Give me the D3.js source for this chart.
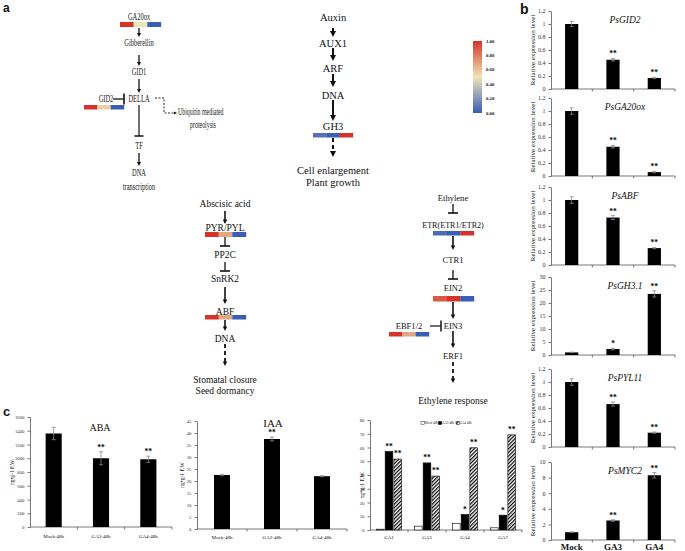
<!DOCTYPE html>
<html>
<head>
<meta charset="utf-8">
<script src="https://cdn.jsdelivr.net/npm/d3@7"></script>
<style>
  body { margin: 0; background: #fff; }
  svg { display: block; font-family: "Liberation Serif", "Times New Roman", serif; }
</style>
</head>
<body>
<div id="fig"></div>
<script>
// ---------- data ----------
// pathway node labels
const gaPathway = ["GA20ox", "Gibberellin", "GID1", "DELLA", "TF", "DNA", "transcription"];
const auxinPathway = ["Auxin", "AUX1", "ARF", "DNA", "GH3"];
const auxinOutcome = ["Cell enlargement", "Plant growth"];
const abaPathway = ["Abscisic acid", "PYR/PYL", "PP2C", "SnRK2", "ABF", "DNA"];
const abaOutcome = ["Stomatal closure", "Seed dormancy"];
const ethPathway = ["Ethylene", "ETR(ETR1/ETR2)", "CTR1", "EIN2", "EIN3", "ERF1"];
const ethOutcome = ["Ethylene response"];

// heatmap (Mock, GA3, GA4), normalised
const heatGenes = ["GA20ox", "GID2", "GH3", "PYR/PYL", "ABF", "ETR", "EIN2", "EBF1/2"];
const heatValues = [
  [1, 0.5, 0], [1, 0.56, 0], [0.08, 0, 1], [1, 0.68, 0],
  [1, 0.68, 0], [0.05, 0, 1], [0.9, 1, 0], [1, 0.68, 0]
];
const colorTicks = [0, 0.2, 0.4, 0.6, 0.8, 1];

// panel b: relative expression
const bCats = ["Mock", "GA3", "GA4"];
const bGenes = ["PsGID2", "PsGA20ox", "PsABF", "PsGH3.1", "PsPYL11", "PsMYC2"];
const bValues = [[1.00, 0.45, 0.17], [1.00, 0.45, 0.06], [1.00, 0.73, 0.26],
                 [1.0, 2.3, 23.5], [1.00, 0.66, 0.22], [1.0, 2.5, 8.3]];
const bErrors = [[0.04, 0.02, 0.01], [0.05, 0.02, 0.01], [0.05, 0.03, 0.01],
                 [0.1, 0.3, 1.2], [0.05, 0.03, 0.01], [0.05, 0.1, 0.35]];
const bStars = [["", "**", "**"], ["", "**", "**"], ["", "**", "**"],
                ["", "*", "**"], ["", "**", "**"], ["", "**", "**"]];
const bYMax = [1.2, 1.2, 1.2, 30, 1.2, 10];
const bYStep = [0.2, 0.2, 0.2, 5, 0.2, 2];

// panel c: hormone contents
const hormoneCats = ["Mock-48h", "GA3-48h", "GA4-48h"];
const abaValues = [1360, 1000, 985];
const abaErrors = [90, 95, 45];
const abaStars = ["", "**", "**"];
const iaaValues = [22.5, 37.5, 22.0];
const iaaErrors = [0.3, 0.8, 0.2];
const iaaStars = ["", "**", ""];
const gaCats = ["GA1", "GA3", "GA4", "GA7"];
const gaSeries = ["Mock-48h", "GA3-48h", "GA4-48h"];
const gaMock = [0.6, 2.8, 4.8, 1.6];
const gaGA3 = [57.2, 48.8, 11.3, 10.8];
const gaGA4 = [51.6, 39.2, 59.8, 69.2];
const gaMockErr = [0.1, 0.2, 0.2, 0.1];
const gaGA3Err = [0.6, 0.6, 0.4, 0.4];
const gaGA4Err = [0.5, 0.5, 0.5, 0.5];
const gaStars3 = ["**", "**", "*", "*"];
const gaStars4 = ["**", "**", "**", "**"];

// ---------- svg ----------
const W = 685, H = 551;
const svg = d3.select("#fig").append("svg").attr("width", W).attr("height", H);
const defs = svg.append("defs");

// heat colour scale
const heatColor = d3.scaleLinear()
  .domain([0, 0.5, 1])
  .range(["#3a5db6", "#ede6b6", "#d6342b"]);

// hatch for GA4 bars
const hatch = defs.append("pattern")
  .attr("id", "hatch")
  .attr("patternUnits", "userSpaceOnUse")
  .attr("width", 2.6).attr("height", 2.6)
  .attr("patternTransform", "rotate(45)");
hatch.append("rect").attr("width", 2.6).attr("height", 2.6).attr("fill", "#fff");
hatch.append("line").attr("x1", 0.6).attr("x2", 0.6).attr("y1", 0).attr("y2", 2.6)
  .attr("stroke", "#000").attr("stroke-width", 1.2);

// ---------- helpers ----------
function label(g, x, y, txt, o = {}) {
  return g.append("text")
    .attr("transform", `translate(${x},${y}) scale(${o.sx || 1},1)`)
    .attr("dy", "0.35em")
    .attr("text-anchor", o.anchor || "middle")
    .style("font-size", (o.size || 9) + "px")
    .style("font-weight", o.weight || "normal")
    .style("font-style", o.style || "normal")
    .style("font-family", o.family || null)
    .attr("fill", o.fill || "#111")
    .text(txt);
}

function arrow(g, pts, o = {}) {
  const hl = o.head || 5, hw = o.hw || 5, sw = o.sw || 1.3;
  const n = pts.length;
  const [xa, ya] = pts[n - 2], [xb, yb] = pts[n - 1];
  const len = Math.hypot(xb - xa, yb - ya);
  const ux = (xb - xa) / len, uy = (yb - ya) / len;
  const line = pts.slice(0, n - 1).concat([[xb - ux * hl * 0.8, yb - uy * hl * 0.8]]);
  g.append("path")
    .attr("d", d3.line()(line))
    .attr("fill", "none")
    .attr("stroke", "#111")
    .attr("stroke-width", sw)
    .attr("stroke-dasharray", o.dash || null);
  const bx = xb - ux * hl, by = yb - uy * hl;
  g.append("path")
    .attr("d", `M${xb},${yb}L${bx - uy * hw / 2},${by + ux * hw / 2}L${bx + uy * hw / 2},${by - ux * hw / 2}Z`)
    .attr("fill", "#111");
}

function inhibit(g, x1, y1, x2, y2, bar = 10, sw = 1.2) {
  g.append("line").attr("x1", x1).attr("y1", y1).attr("x2", x2).attr("y2", y2)
    .attr("stroke", "#111").attr("stroke-width", sw);
  const len = Math.hypot(x2 - x1, y2 - y1);
  const px = -(y2 - y1) / len, py = (x2 - x1) / len;
  g.append("line")
    .attr("x1", x2 - px * bar / 2).attr("y1", y2 - py * bar / 2)
    .attr("x2", x2 + px * bar / 2).attr("y2", y2 + py * bar / 2)
    .attr("stroke", "#111").attr("stroke-width", sw + 0.3);
}

function heatBar(g, gene, x, y, w, h) {
  const vals = heatValues[heatGenes.indexOf(gene)];
  const hx = d3.scaleBand().domain(d3.range(vals.length)).range([x, x + w]);
  g.selectAll(null).data(vals).enter().append("rect")
    .attr("x", (d, i) => hx(i))
    .attr("y", y)
    .attr("width", hx.bandwidth() + 0.2)
    .attr("height", h)
    .attr("fill", d => heatColor(d));
}

// ---------- panel a ----------
const a = svg.append("g");
label(a, 3, 8, "a", { size: 12, weight: "bold", anchor: "start", family: "Liberation Sans, Arial, sans-serif" });

// gibberellin signalling (condensed type)
const gaX = 139, gaY = [17, 43, 72, 99, 146, 173, 187];
gaPathway.forEach((t, i) => label(a, gaX, gaY[i], t, { size: 9.5, sx: 0.68, fill: "#222" }));
heatBar(a, "GA20ox", 120, 22, 41, 5);
arrow(a, [[gaX, 28], [gaX, 37]], { head: 4, hw: 4, sw: 1.3 });
arrow(a, [[gaX, 55], [gaX, 66]], { head: 4, hw: 4, sw: 1.3 });
arrow(a, [[gaX, 79], [gaX, 93]], { head: 4, hw: 4, sw: 1.3 });
inhibit(a, gaX, 105, gaX, 136, 9);
arrow(a, [[gaX, 153], [gaX, 166]], { head: 4, hw: 4, sw: 1.3 });
label(a, 106, 99, "GID2", { size: 9.5, sx: 0.68, fill: "#222" });
inhibit(a, 113, 99, 124, 99, 11, 1.3);
heatBar(a, "GID2", 84, 105, 40, 4.5);
arrow(a, [[155, 98], [164, 98], [164, 113], [177, 113]], { head: 3, hw: 3, sw: 0.9, dash: "2,1.5" });
label(a, 178, 112, "Ubiquitin mediated", { size: 9.5, sx: 0.62, anchor: "start", fill: "#222" });
label(a, 203, 125, "proteolysis", { size: 9.5, sx: 0.62, fill: "#222" });

// auxin signalling
const axX = 333, axY = [17, 43, 68, 95, 126];
auxinPathway.forEach((t, i) => label(a, axX, axY[i], t, { size: 10.5 }));
const thick = { head: 6, hw: 6, sw: 2 };
arrow(a, [[axX, 28], [axX, 37]], thick);
arrow(a, [[axX, 48], [axX, 61]], thick);
arrow(a, [[axX, 74], [axX, 87]], thick);
arrow(a, [[axX, 100], [axX, 121]], thick);
heatBar(a, "GH3", 313, 133, 40, 4.5);
arrow(a, [[axX, 138], [axX, 157]], { head: 6, hw: 6, sw: 2, dash: "4,3" });
auxinOutcome.forEach((t, i) => label(a, axX, 170 + i * 12.5, t, { size: 10.5 }));

// colour key
const grad = defs.append("linearGradient").attr("id", "heatGrad")
  .attr("x1", 0).attr("x2", 0).attr("y1", 1).attr("y2", 0);
grad.selectAll("stop").data(d3.range(0, 1.01, 0.1)).enter().append("stop")
  .attr("offset", d => d).attr("stop-color", d => heatColor(d));
const keyY = d3.scaleLinear().domain([0, 1]).range([113, 41]);
a.append("rect").attr("x", 473).attr("y", keyY(1)).attr("width", 9)
  .attr("height", keyY(0) - keyY(1)).attr("fill", "url(#heatGrad)");
colorTicks.forEach(v => label(a, 486, keyY(v), v.toFixed(2), { size: 4.8, weight: "bold", anchor: "start" }));

// ABA signalling
const abX = 225, abY = [204, 228, 255, 279, 312, 339];
abaPathway.forEach((t, i) => label(a, abX, abY[i], t, { size: 9.5 }));
arrow(a, [[abX, 211], [abX, 224]], { head: 4.5, hw: 4.5, sw: 1.6 });
heatBar(a, "PYR/PYL", 205, 232, 41, 5);
inhibit(a, abX, 237, abX, 246, 10, 1.3);
inhibit(a, abX, 262, abX, 271, 10, 1.3);
arrow(a, [[abX, 287], [abX, 304]], { head: 4.5, hw: 4.5, sw: 1.6 });
heatBar(a, "ABF", 205, 315, 41, 4.5);
arrow(a, [[abX, 320], [abX, 331]], { head: 4.5, hw: 4.5, sw: 1.6 });
arrow(a, [[abX, 344], [abX, 366]], { head: 4.5, hw: 4.5, sw: 1.8, dash: "4,3" });
abaOutcome.forEach((t, i) => label(a, abX, 380 + i * 11, t, { size: 9.5 }));

// ethylene signalling
const etX = 453, etY = [198, 225, 260, 288, 326, 356];
ethPathway.forEach((t, i) => label(a, etX, etY[i], t, { size: 9, sx: i === 1 ? 0.9 : 0.95 }));
inhibit(a, etX, 204, etX, 213, 10, 1.3);
heatBar(a, "ETR", 433, 231, 41, 4.5);
arrow(a, [[etX, 236], [etX, 250]], { head: 4.5, hw: 4.5, sw: 1.6 });
inhibit(a, etX, 270, etX, 279, 10, 1.3);
heatBar(a, "EIN2", 433, 296, 41, 5.5);
arrow(a, [[etX, 302], [etX, 319]], { head: 4.5, hw: 4.5, sw: 1.6 });
label(a, 409, 326, "EBF1/2", { size: 9, sx: 0.95 });
inhibit(a, 430, 326, 441, 326, 11, 1.2);
heatBar(a, "EBF1/2", 389, 332, 40, 4.5);
arrow(a, [[etX, 331], [etX, 348]], { head: 4.5, hw: 4.5, sw: 1.6 });
arrow(a, [[etX, 362], [etX, 383]], { head: 4.5, hw: 4.5, sw: 1.8, dash: "4,3" });
ethOutcome.forEach(t => label(a, etX, 401, t, { size: 9.5 }));

// ---------- bar chart helper ----------
function barChart(cfg) {
  const g = svg.append("g");
  const x = d3.scaleBand().domain(cfg.cats).range([cfg.x0, cfg.x1])
    .paddingInner(cfg.pad).paddingOuter(cfg.pad / 2);
  const y = d3.scaleLinear().domain([0, cfg.yMax]).range([cfg.y0, cfg.y1]);
  const fmt = d => String(Math.round(d * 10) / 10);

  const yAxis = g.append("g").attr("transform", `translate(${cfg.x0},0)`)
    .call(d3.axisLeft(y).tickValues(d3.range(0, cfg.yMax + cfg.yStep / 2, cfg.yStep))
      .tickSize(2.5).tickSizeOuter(0).tickPadding(3).tickFormat(fmt));
  yAxis.selectAll("text").style("font-size", cfg.tickSize + "px")
    .style("font-family", "Liberation Serif, serif").attr("fill", "#333");
  yAxis.selectAll("line,path").attr("stroke", "#555").attr("stroke-width", 0.8);

  // x baseline with ticks at category boundaries
  g.append("line").attr("x1", cfg.x0).attr("x2", cfg.x1).attr("y1", cfg.y0).attr("y2", cfg.y0)
    .attr("stroke", "#555").attr("stroke-width", 0.8);
  g.selectAll(null).data(d3.range(1, cfg.cats.length + 1)).enter().append("line")
    .attr("x1", i => cfg.x0 + i * x.step()).attr("x2", i => cfg.x0 + i * x.step())
    .attr("y1", cfg.y0).attr("y2", cfg.y0 + 2.5)
    .attr("stroke", "#555").attr("stroke-width", 0.8);

  g.selectAll(null).data(cfg.vals).enter().append("rect")
    .attr("x", (d, i) => x(cfg.cats[i]))
    .attr("y", d => y(d))
    .attr("width", x.bandwidth())
    .attr("height", d => y(0) - y(d))
    .attr("fill", "#000");

  const eb = g.selectAll(null).data(cfg.vals).enter().append("g")
    .attr("transform", (d, i) => `translate(${x(cfg.cats[i]) + x.bandwidth() / 2},0)`);
  eb.append("line").attr("y1", (d, i) => y(d + cfg.errs[i])).attr("y2", (d, i) => y(d - cfg.errs[i]))
    .attr("stroke", "#888").attr("stroke-width", 0.8);
  [1, -1].forEach(s => eb.append("line").attr("x1", -2).attr("x2", 2)
    .attr("y1", (d, i) => y(d + s * cfg.errs[i])).attr("y2", (d, i) => y(d + s * cfg.errs[i]))
    .attr("stroke", "#888").attr("stroke-width", 0.8));
  eb.append("text")
    .attr("y", (d, i) => y(d + cfg.errs[i]) - 2)
    .attr("text-anchor", "middle")
    .style("font-size", cfg.starSize + "px").style("font-weight", "bold")
    .text((d, i) => cfg.stars[i]);

  if (cfg.title) label(g, cfg.titleX, cfg.titleY, cfg.title,
    { size: cfg.titleSize, style: cfg.titleStyle || "normal" });
  g.append("text")
    .attr("transform", `translate(${cfg.ylabX},${(cfg.y0 + cfg.y1) / 2}) rotate(-90)`)
    .attr("text-anchor", "middle").attr("dy", "0.35em")
    .style("font-size", cfg.ylabSize + "px").attr("fill", "#222")
    .text(cfg.ylab);
  if (cfg.xlabSize) {
    g.selectAll(null).data(cfg.cats).enter().append("text")
      .attr("x", d => x(d) + x.bandwidth() / 2)
      .attr("y", cfg.xlabY)
      .attr("text-anchor", "middle")
      .style("font-size", cfg.xlabSize + "px")
      .style("font-weight", cfg.xlabWeight || "normal")
      .attr("fill", "#111")
      .text(d => d);
  }
  return { g, x, y };
}

// ---------- panel b ----------
label(svg, 520, 9, "b", { size: 14, weight: "bold", anchor: "start", family: "Liberation Sans, Arial, sans-serif" });
const bTops = [11, 98, 187, 277, 369, 462], bH = 78;
bGenes.forEach((gene, k) => {
  barChart({
    cats: bCats, vals: bValues[k], errs: bErrors[k], stars: bStars[k],
    x0: 551, x1: 675, y0: bTops[k] + bH, y1: bTops[k], pad: 0.68,
    yMax: bYMax[k], yStep: bYStep[k], tickSize: 6, starSize: 7.5,
    title: gene, titleX: 625, titleY: bTops[k] + 9, titleSize: 9.5, titleStyle: "italic",
    ylab: "Relative expression level", ylabX: 533, ylabSize: 7,
    xlabSize: k === bGenes.length - 1 ? 9 : 0, xlabY: 550, xlabWeight: "bold"
  });
});

// ---------- panel c ----------
label(svg, 3, 411, "c", { size: 13, weight: "bold", anchor: "start", family: "Liberation Sans, Arial, sans-serif" });
barChart({
  cats: hormoneCats, vals: abaValues, errs: abaErrors, stars: abaStars,
  x0: 30, x1: 172, y0: 527, y1: 417, pad: 0.66,
  yMax: 1600, yStep: 200, tickSize: 4.8, starSize: 7.5,
  title: "ABA", titleX: 100, titleY: 427, titleSize: 10,
  ylab: "ng•g-1 F.W.", ylabX: 12, ylabSize: 5.5,
  xlabSize: 5, xlabY: 538
});
barChart({
  cats: hormoneCats, vals: iaaValues, errs: iaaErrors, stars: iaaStars,
  x0: 197, x1: 347, y0: 529, y1: 421, pad: 0.68,
  yMax: 45, yStep: 5, tickSize: 4.8, starSize: 7.5,
  title: "IAA", titleX: 273, titleY: 423, titleSize: 11,
  ylab: "ng•g-1 F.W", ylabX: 182, ylabSize: 5.5,
  xlabSize: 5, xlabY: 539
});

// grouped GA chart
(function () {
  const g = svg.append("g");
  const x0 = 370, x1 = 522, yb = 530, yt = 420;
  const x = d3.scaleBand().domain(gaCats).range([x0, x1]).paddingInner(0.34).paddingOuter(0.17);
  const xs = d3.scaleBand().domain(gaSeries).range([0, x.bandwidth()]).paddingInner(0.12);
  const y = d3.scaleLinear().domain([0, 80]).range([yb, yt]);
  const yAxis = g.append("g").attr("transform", `translate(${x0},0)`)
    .call(d3.axisLeft(y).tickValues(d3.range(0, 81, 10)).tickSize(2.5).tickSizeOuter(0).tickPadding(3));
  yAxis.selectAll("text").style("font-size", "4.8px").style("font-family", "Liberation Serif, serif").attr("fill", "#333");
  yAxis.selectAll("line,path").attr("stroke", "#555").attr("stroke-width", 0.8);
  g.append("line").attr("x1", x0).attr("x2", x1).attr("y1", yb).attr("y2", yb)
    .attr("stroke", "#555").attr("stroke-width", 0.8);
  g.selectAll(null).data(d3.range(1, gaCats.length + 1)).enter().append("line")
    .attr("x1", i => x0 + i * x.step()).attr("x2", i => x0 + i * x.step())
    .attr("y1", yb).attr("y2", yb + 2.5).attr("stroke", "#555").attr("stroke-width", 0.8);

  const series = [
    { key: gaSeries[0], vals: gaMock, errs: gaMockErr, stars: ["", "", "", ""], fill: "#fff" },
    { key: gaSeries[1], vals: gaGA3, errs: gaGA3Err, stars: gaStars3, fill: "#000" },
    { key: gaSeries[2], vals: gaGA4, errs: gaGA4Err, stars: gaStars4, fill: "url(#hatch)" }
  ];
  series.forEach(s => {
    const bars = g.selectAll(null).data(gaCats).enter().append("g")
      .attr("transform", d => `translate(${x(d) + xs(s.key)},0)`);
    bars.append("rect")
      .attr("y", (d, i) => y(s.vals[i]))
      .attr("width", xs.bandwidth())
      .attr("height", (d, i) => y(0) - y(s.vals[i]))
      .attr("fill", s.fill).attr("stroke", "#000").attr("stroke-width", 0.6);
    bars.append("line")
      .attr("x1", xs.bandwidth() / 2).attr("x2", xs.bandwidth() / 2)
      .attr("y1", (d, i) => y(s.vals[i] + s.errs[i])).attr("y2", (d, i) => y(s.vals[i] - s.errs[i]))
      .attr("stroke", "#888").attr("stroke-width", 0.6);
    bars.append("text")
      .attr("x", xs.bandwidth() / 2)
      .attr("y", (d, i) => y(s.vals[i] + s.errs[i]) - 2)
      .attr("text-anchor", "middle")
      .style("font-size", "7.5px").style("font-weight", "bold")
      .text((d, i) => s.stars[i]);
  });
  g.selectAll(null).data(gaCats).enter().append("text")
    .attr("x", d => x(d) + x.bandwidth() / 2).attr("y", 539)
    .attr("text-anchor", "middle").style("font-size", "5px").attr("fill", "#111")
    .text(d => d);
  g.append("text")
    .attr("transform", `translate(362,485) rotate(-90)`)
    .attr("text-anchor", "middle").attr("dy", "0.35em")
    .style("font-size", "5.5px").attr("fill", "#222").text("ng*g-1 F.W.");

  // legend
  const lg = g.selectAll(null).data(series).enter().append("g")
    .attr("transform", (d, i) => `translate(${421 + i * 17.5},423)`);
  lg.append("rect").attr("x", 0).attr("y", -1.6).attr("width", 3.2).attr("height", 3.2)
    .attr("fill", d => d.fill).attr("stroke", "#000").attr("stroke-width", 0.4);
  lg.append("text")
    .attr("transform", "translate(3.8,0) scale(0.75,1)")
    .attr("dy", "0.35em")
    .style("font-size", "4.2px").attr("fill", "#222").text(d => d.key);
})();
</script>
</body>
</html>
